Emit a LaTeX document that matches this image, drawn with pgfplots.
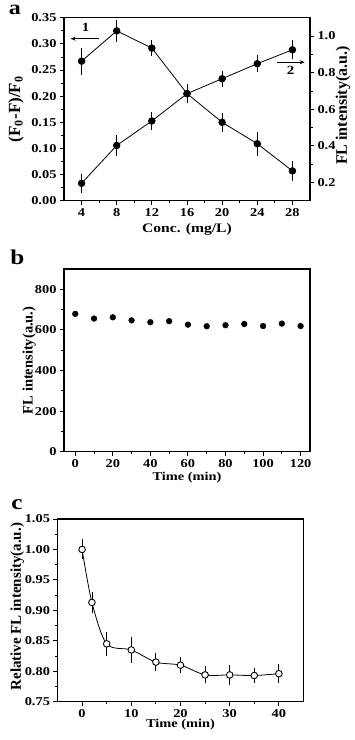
\documentclass[border=0pt]{standalone}
\usepackage{fontspec}
\setmainfont{Liberation Serif}[FakeStretch=1.2]
\newfontfamily\ylabfont{Liberation Serif}
\usepackage{pgfplots}
\pgfplotsset{compat=1.18}
\usetikzlibrary{arrows.meta}

\pgfplotstableread{
x y e
4 0.267 0.020
8 0.325 0.016
12 0.292 0.010
16 0.205 0.013
20 0.150 0.012
24 0.109 0.017
28 0.057 0.013
}\dataAone
\pgfplotstableread{
x y e
4 0.195 0.036
8 0.402 0.040
12 0.536 0.033
16 0.685 0.036
20 0.767 0.027
24 0.849 0.031
28 0.925 0.035
}\dataAtwo
\pgfplotstableread{
x y
0 679
10 656
20 662
30 647
40 638
50 643
60 626
70 618
80 623
90 629
100 619
110 631
120 619
}\dataB
\pgfplotstableread{
x y e
0 1.000 0.0115
2 0.913 0.0126
5 0.845 0.015
10 0.835 0.016
15 0.815 0.010
20 0.810 0.008
25 0.794 0.009
30 0.794 0.011
35 0.793 0.008
40 0.796 0.0105
}\dataC

\pgfplotsset{
  myaxis/.style={
    scale only axis,
    width=246pt,
    axis line style={line width=1.1pt},
    tick align=outside,
    tick pos=left,
    major tick length=4pt,
    minor tick length=2.5pt,
    every tick/.style={black, line width=0.9pt},
    minor tick num=1,
    tick label style={font=\fontsize{12}{12}\selectfont\bfseries},
    /pgf/number format/assume math mode=true,
  },
  myerr/.style={
    error bars/.cd, y dir=both, y explicit,
    error bar style={line width=0.8pt, black},
    error mark options={line width=0.8pt, mark size=3pt, black},
  },
}

\begin{document}
\begin{tikzpicture}
\path[use as bounding box] (0,0) rectangle (354pt,740pt);

% ---------- panel a ----------
\begin{axis}[myaxis, at={(64pt,539.3pt)}, anchor=south west, height=182.9pt,
  xmin=2, xmax=30, xtick={4,8,12,16,20,24,28},
  ymin=0, ymax=0.35, ytick={0,0.05,0.1,0.15,0.2,0.25,0.3,0.35},
  yticklabel style={/pgf/number format/.cd, fixed, fixed zerofill, precision=2},
  xlabel={Conc. (mg/L)},
  xlabel style={font=\fontsize{13}{13}\selectfont\bfseries, at={(axis description cs:0.5,-0.155)}, anchor=center},
  ylabel={(F\textsubscript{0}-F)/F\textsubscript{0}},
  ylabel style={font=\ylabfont\fontsize{17}{17}\selectfont\bfseries, at={(axis description cs:-0.195,0.5)}, anchor=center},
]
\addplot[black, line width=0.8pt, mark=*, mark size=3.3pt, myerr] table[x=x, y=y, y error=e] {\dataAone};
\draw[-{Stealth[length=5pt,width=4pt]}, line width=0.8pt] (axis cs:6.0,0.31) -- (axis cs:2.75,0.31);
\node[font=\fontsize{12.5}{12.5}\selectfont\bfseries] at (axis cs:4.45,0.332) {1};
\draw[-{Stealth[length=5pt,width=4pt]}, line width=0.8pt] (axis cs:26.2,0.265) -- (axis cs:29.4,0.265);
\node[font=\fontsize{12.5}{12.5}\selectfont\bfseries] at (axis cs:27.8,0.249) {2};
\end{axis}
\begin{axis}[myaxis, at={(64pt,539.3pt)}, anchor=south west, height=182.9pt,
  xmin=2, xmax=30, axis x line=none, axis y line*=right, ytick pos=right,
  ymin=0.1, ymax=1.1, ytick={0.2,0.4,0.6,0.8,1.0},
  yticklabel style={/pgf/number format/.cd, fixed, fixed zerofill, precision=1},
  ylabel={FL intensity(a.u.)},
  ylabel style={font=\ylabfont\fontsize{16}{16}\selectfont\bfseries, at={(axis description cs:1.134,0.52)}, anchor=center},
]
\addplot[black, line width=0.8pt, mark=*, mark size=3.3pt, myerr] table[x=x, y=y, y error=e] {\dataAtwo};
\end{axis}
\node[font=\fontsize{20}{20}\selectfont\bfseries, anchor=base, inner sep=0pt] at (15pt,725.5pt) {a};

% ---------- panel b ----------
\begin{axis}[myaxis, at={(64pt,288.3pt)}, anchor=south west, height=182.7pt,
  xmin=-6, xmax=125, xtick={0,20,40,60,80,100,120},
  ymin=0, ymax=900, ytick={0,200,400,600,800},
  xlabel={Time (min)},
  xlabel style={font=\fontsize{12}{12}\selectfont\bfseries, at={(axis description cs:0.5,-0.144)}, anchor=center},
  ylabel={FL intensity(a.u.)},
  ylabel style={font=\ylabfont\fontsize{14.5}{14.5}\selectfont\bfseries, at={(axis description cs:-0.142,0.5)}, anchor=center},
]
\addplot[only marks, black, mark=*, mark size=2.9pt] table[x=x, y=y] {\dataB};
\end{axis}
\node[font=\fontsize{21}{21}\selectfont\bfseries, anchor=base, inner sep=0pt] at (17.5pt,475pt) {b};

% ---------- panel c ----------
\begin{axis}[myaxis, at={(57.5pt,38.3pt)}, anchor=south west, height=182.7pt,
  xmin=-5, xmax=45, xtick={0,10,20,30,40},
  ymin=0.75, ymax=1.05, ytick={0.75,0.8,0.85,0.9,0.95,1.0,1.05},
  yticklabel style={/pgf/number format/.cd, fixed, fixed zerofill, precision=2},
  xlabel={Time (min)},
  xlabel style={font=\fontsize{12}{12}\selectfont\bfseries, at={(axis description cs:0.5,-0.128)}, anchor=center},
  ylabel={Relative FL intensity(a.u.)},
  ylabel style={font=\ylabfont\fontsize{15}{15}\selectfont\bfseries, at={(axis description cs:-0.163,0.52)}, anchor=center},
]
\addplot[black, line width=0.8pt, smooth, no marks] table[x=x, y=y] {\dataC};
\addplot[only marks, black, mark=*, mark size=3.3pt, mark options={fill=white, draw=black, line width=0.9pt}, myerr] table[x=x, y=y, y error=e] {\dataC};
\end{axis}
\node[font=\fontsize{21}{21}\selectfont\bfseries, anchor=base, inner sep=0pt] at (17pt,230pt) {c};
\end{tikzpicture}
\end{document}
